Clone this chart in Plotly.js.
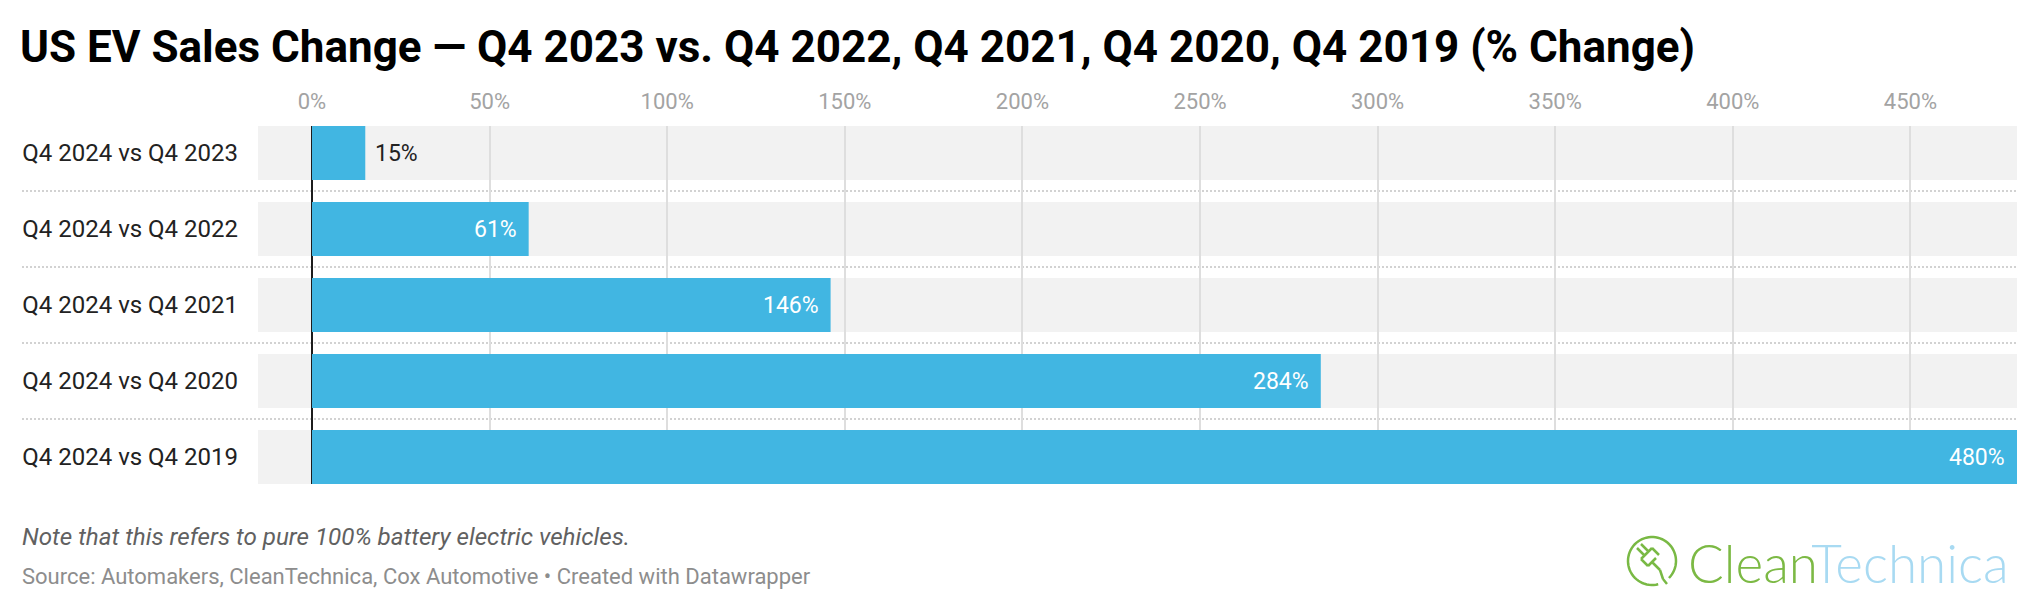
<!DOCTYPE html>
<html>
<head>
<meta charset="utf-8">
<script src="https://cdn.plot.ly/plotly-3.0.1.min.js"></script>
<style>
  html, body { margin: 0; padding: 0; background: #fff; }
  #chart { width: 2040px; height: 608px; }
</style>
</head>
<body>
<div id="chart"></div>
<script>
// ---- data ----
const categories = [
  "Q4 2024 vs Q4 2023",
  "Q4 2024 vs Q4 2022",
  "Q4 2024 vs Q4 2021",
  "Q4 2024 vs Q4 2020",
  "Q4 2024 vs Q4 2019"
];
const changePct = [15, 61, 146, 284, 480];
const tickValues = [0, 50, 100, 150, 200, 250, 300, 350, 400, 450];
const tickLabels = ["0%", "50%", "100%", "150%", "200%", "250%", "300%", "350%", "400%", "450%"];
const titleText = "US EV Sales Change \u2014 Q4 2023 vs. Q4 2022, Q4 2021, Q4 2020, Q4 2019 (% Change)";
const noteText = "Note that this refers to pure 100% battery electric vehicles.";
const sourceText = "Source: Automakers, CleanTechnica, Cox Automotive \u2022 Created with Datawrapper";

// ---- layout geometry (pixels) ----
const W = 2040, H = 608;
const M = { l: 258, r: 23, t: 126, b: 124 };
const plotW = W - M.l - M.r, plotH = H - M.t - M.b;
const px = x => (x - M.l) / plotW;       // pixel x -> paper
const py = y => (H - M.b - y) / plotH;   // pixel y -> paper

const BAR_BLUE = "#41b6e2";
const halfBar = 0.3553;

const shapes = [];
// grey background rows
categories.forEach((c, i) => {
  shapes.push({
    type: "rect", xref: "paper", yref: "y", layer: "below",
    x0: 0, x1: 1, y0: i - halfBar, y1: i + halfBar,
    fillcolor: "#f2f2f2", line: { width: 0 }
  });
});
// dotted separators between rows
for (let i = 0; i < categories.length - 1; i++) {
  shapes.push({
    type: "line", xref: "paper", yref: "y", layer: "below",
    x0: px(22), x1: 1, y0: i + 0.5, y1: i + 0.5,
    line: { color: "#d2d2d2", width: 2, dash: "2px,2px" }
  });
}

// logo icon (decorative)
const cx = 1652, cy = 561, r = 24;
function arcPath(cx, cy, r, a0, a1, n) {
  let d = "";
  for (let k = 0; k <= n; k++) {
    const a = a0 + (a1 - a0) * k / n;
    const x = cx + r * Math.cos(a), y = cy + r * Math.sin(a);
    d += (k === 0 ? "M" : "L") + px(x).toFixed(5) + "," + py(y).toFixed(5);
  }
  return d;
}
const deg = Math.PI / 180;
shapes.push({
  type: "path", xref: "paper", yref: "paper", layer: "above",
  path: arcPath(cx, cy, r, 75 * deg, 405 * deg, 60),
  line: { color: "#79b944", width: 2.5 }
});
// plug: prongs, body, cord
const seg = (x0, y0, x1, y1) => "M" + px(x0) + "," + py(y0) + "L" + px(x1) + "," + py(y1);
shapes.push({
  type: "path", xref: "paper", yref: "paper", layer: "above",
  path: seg(1637, 548, 1644, 555) + seg(1641, 544, 1648, 551) +
        seg(1641, 559, 1652, 548) + seg(1641, 559, 1648, 566) + seg(1652, 548, 1659, 555) +
        seg(1648, 566, 1656, 558) +
        seg(1652, 562, 1660, 570) + seg(1660, 570, 1663, 579) + seg(1663, 579, 1667, 584),
  line: { color: "#79b944", width: 2.5 }
});

const annotations = [];
// value labels
changePct.forEach((v, i) => {
  const inside = v >= 40;
  annotations.push({
    x: v, y: categories[i], xref: "x", yref: "y",
    text: v + "%", showarrow: false,
    xanchor: inside ? "right" : "left",
    xshift: inside ? -10 : 8,
    yanchor: "middle",
    font: { family: "Roboto", size: 23, color: inside ? "#ffffff" : "#222222" }
  });
});
// note + source
annotations.push({
  xref: "paper", yref: "paper", x: px(20), y: py(537),
  xanchor: "left", yanchor: "middle", showarrow: false,
  text: noteText,
  font: { family: "Roboto", size: 24.2, style: "italic", color: "#616161" }
});
annotations.push({
  xref: "paper", yref: "paper", x: px(20), y: py(576),
  xanchor: "left", yanchor: "middle", showarrow: false,
  text: sourceText,
  font: { family: "Roboto", size: 22, color: "#8d8d8d" }
});
// logo wordmark
annotations.push({
  xref: "paper", yref: "paper", x: px(1686), y: py(562),
  xanchor: "left", yanchor: "middle", showarrow: false,
  text: '<span style="color:#7cb944">Clean</span><span style="color:#a8daf2">Technica</span>',
  font: { family: "Lato", size: 53, weight: 300, color: "#7cb944" }
});

const trace = {
  type: "bar", orientation: "h",
  x: changePct, y: categories,
  marker: { color: BAR_BLUE, line: { width: 0 } },
  hoverinfo: "none", cliponaxis: false
};

const layout = {
  width: W, height: H,
  margin: M,
  paper_bgcolor: "#ffffff", plot_bgcolor: "rgba(0,0,0,0)",
  showlegend: false,
  bargap: 1 - 2 * halfBar,
  title: {
    text: "<b>" + titleText + "</b>",
    xref: "container", yref: "container",
    x: 20 / W, xanchor: "left",
    y: 1 - 47 / H, yanchor: "middle",
    font: { family: "Roboto", size: 44, color: "#000000" }
  },
  xaxis: {
    side: "top",
    range: [-15.2, 480],
    tickmode: "array", tickvals: tickValues, ticktext: tickLabels,
    ticks: "", ticklabelstandoff: 12,
    showgrid: true, gridcolor: "#dedede", gridwidth: 2,
    zeroline: true, zerolinecolor: "#1c1c1c", zerolinewidth: 2,
    showline: false,
    tickfont: { family: "Roboto", size: 22, color: "#a3a3a3" },
    fixedrange: true
  },
  yaxis: {
    type: "category",
    categoryorder: "array", categoryarray: categories,
    range: [categories.length - 1 + halfBar, -halfBar],
    ticks: "", showgrid: false, zeroline: false, showline: false,
    ticklabelstandoff: 19,
    tickfont: { family: "Roboto", size: 24, color: "#222222" },
    fixedrange: true
  },
  shapes: shapes,
  annotations: annotations
};

Plotly.newPlot("chart", [trace], layout, { displayModeBar: false, staticPlot: true });
</script>
</body>
</html>
